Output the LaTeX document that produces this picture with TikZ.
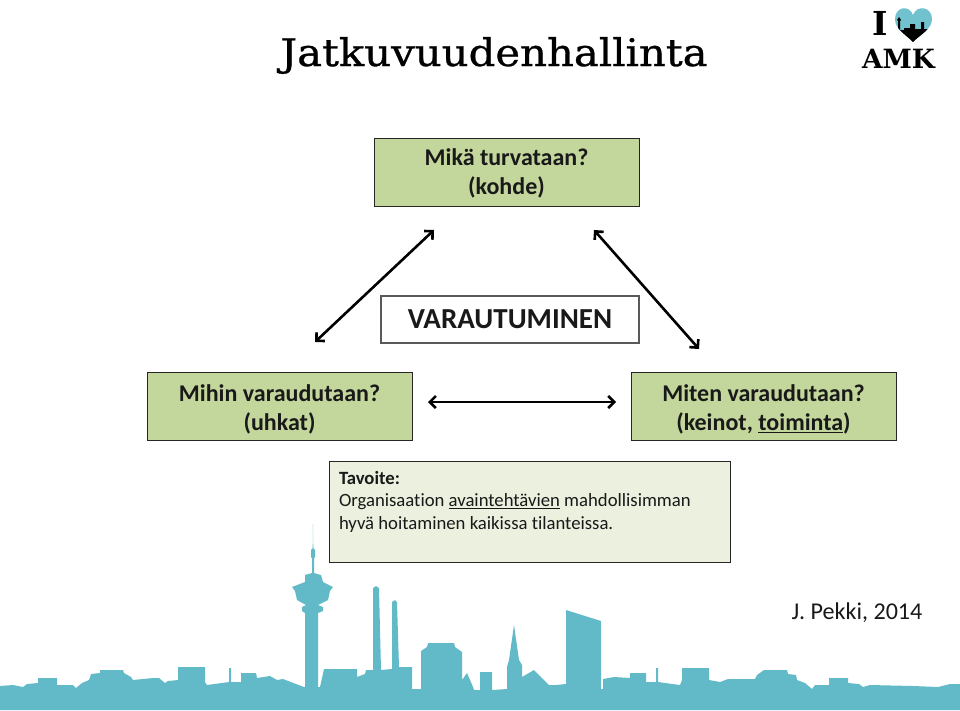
\documentclass[tikz,border=0pt]{standalone}
\usepackage{fontspec}
\setmainfont[Ligatures=NoCommon]{Carlito}
\newfontfamily\titlefont[FakeStretch=1.1,FakeBold=0.8]{DejaVu Serif}
\newfontfamily\logofont{DejaVu Serif}
\usetikzlibrary{arrows.meta}
\definecolor{boxgreen}{HTML}{C3D69B}
\definecolor{palegreen}{HTML}{EBF0DF}
\definecolor{skyteal}{HTML}{62BAC8}
\tikzset{
  question/.style={draw=black!85,line width=1pt,fill=boxgreen,minimum width=265pt,minimum height=68pt,inner sep=0pt,align=center,text=black!90,font=\bfseries\fontsize{24}{29}\selectfont},
  twoway/.style={line width=2.6pt,{Straight Barb[length=6pt,width=12pt,line width=2.6pt]}-{Straight Barb[length=6pt,width=12pt,line width=2.6pt]},black},
}
\begin{document}
\begin{tikzpicture}[x=1pt,y=-1pt]
\useasboundingbox (0,0) rectangle (960,710);
% skyline
\fill[skyteal] (0,686) -- (13,685) -- (23,687) -- (27,684) -- (38,683) -- (38,678) -- (57,678) -- (57,685) -- (73,685) -- (76,688) -- (82,683) -- (89,680) -- (91,674) -- (100,673) -- (100,670) -- (123,670) -- (124,673) -- (131,677) -- (133,680) -- (153,678) -- (159,678) -- (165,683) -- (168,681) -- (178,680) -- (178,667) -- (205,667) -- (205,682) -- (207,685) -- (229,682) -- (229,668) -- (231,668) -- (231,682) -- (241,682) -- (241,673) -- (256,673) -- (257,678) -- (270,676) -- (277,680) -- (283,679) -- (304,687) -- (305,687) -- (305,613) -- (302,611) -- (302,607) -- (306,605) -- (297,600) -- (295,591) -- (292,587) -- (305,582) -- (305,575) -- (312,573) -- (312,558) -- (311,557) -- (311,550) -- (312.7,548) -- (313,524) -- (313.3,548) -- (315,550) -- (315,557) -- (314,558) -- (314,573) -- (321,575) -- (323,582) -- (333,587) -- (330,591) -- (328,600) -- (318,605) -- (323,607) -- (323,611) -- (318,613) -- (318,687) -- (320,687) -- (324,669) -- (357,669) -- (357,677) -- (365,674) -- (366,670) -- (373,670) -- (373,588) -- (376,586) -- (379,588) -- (381,670) -- (392,669) -- (392,602) -- (395,600) -- (397,602) -- (399,667) -- (412,667) -- (412,689) -- (421,689) -- (421,651) -- (427,647) -- (428,643) -- (454,643) -- (455,647) -- (462,652) -- (462,680) -- (467,673) -- (473,687) -- (474,690) -- (480,690) -- (480,672) -- (492,672) -- (492,690) -- (507,689) -- (507,667) -- (509,660) -- (514,625) -- (519,660) -- (522,665) -- (522,677) -- (534,670) -- (549,685) -- (556,685) -- (566,684) -- (566,610) -- (601,621) -- (601,689) -- (603,689) -- (603,679) -- (614,677) -- (630,678) -- (630,673) -- (646,673) -- (646,682) -- (656,682) -- (656,668) -- (658,668) -- (658,682) -- (680,685) -- (682,680) -- (682,668) -- (709,668) -- (709,680) -- (720,682) -- (728,679) -- (755,679) -- (757,675) -- (764,670) -- (787,670) -- (788,674) -- (796,675) -- (797,680) -- (805,683) -- (812,689) -- (815,685) -- (829,685) -- (829,678) -- (848,678) -- (848,683) -- (859,684) -- (863,687) -- (870,685) -- (913,686) -- (938,687) -- (950,684) -- (960,684) -- (960,710) -- (0,710) -- cycle;
% logo
\begin{scope}
\clip (913,42) .. controls (905,34) and (895,29) .. (895,19) .. controls (895,7) and (909,4) .. (913,15) .. controls (917,4) and (932,7) .. (932,19) .. controls (932,29) and (921,34) .. (913,42) -- cycle;
\fill[skyteal!90!white] (890,5) rectangle (936,44);
\fill[black] (893,46) -- (893,30) -- (898,30) -- (898,21) -- (897,20) -- (899,17) -- (901,20) -- (900,21) -- (900,30) -- (904,30) -- (904,28) -- (910,28) -- (910,24) -- (915,24) -- (915,29) -- (921,29) -- (921,22) -- (924,22) -- (924,29) -- (934,29) -- (934,46) -- cycle;
\end{scope}
\node (logoi) at (880,23) {\logofont\bfseries\fontsize{33}{33}\selectfont I};
\node (logoamk) at (898.5,59) {\logofont\bfseries\fontsize{26.5}{28}\selectfont AMK};
\node[anchor=base] (title) at (494,66) {\titlefont\fontsize{38}{44}\selectfont Jatkuvuudenhallinta};
% boxes
\node[question] (kohde) at (506.5,172) {\rule{0pt}{19pt}Mikä turvataan?\\(kohde)};
\node[question] (uhkat) at (279.5,406.5) {\rule{0pt}{23pt}Mihin varaudutaan?\\(uhkat)};
\node[question] (keinot) at (763.5,406.5) {\rule{0pt}{23pt}Miten varaudutaan?\\(keinot, \underline{toiminta})};
\node[draw=black!65,line width=1.2pt,minimum width=258pt,minimum height=47pt,inner sep=0pt,text=black!90,font=\bfseries\fontsize{29}{30}\selectfont] (varautuminen) at (510,319.5) {VARAUTUMINEN};
\node[draw=black!85,line width=1pt,fill=palegreen,minimum width=401pt,minimum height=101pt,text width=381pt,inner sep=0pt,align=flush left,text=black!90,font=\fontsize{18.7}{22.5}\selectfont] (tavoite) at (529.5,511.5) {\textbf{Tavoite:}\\Organisaation \underline{avaintehtävien} mahdollisimman\\hyvä hoitaminen kaikissa tilanteissa.\\~};
\node[text=black!90,font=\fontsize{24.1}{28}\selectfont] (tekija) at (857,613) {J. Pekki, 2014};
% arrows
\coordinate (kohdevasen) at (434,230);
\coordinate (kohdeoikea) at (594,230);
\coordinate (uhkatylos) at (315,342);
\coordinate (keinotylos) at (699,349);
\coordinate (uhkatoikea) at (428,402);
\coordinate (keinotvasen) at (616,402);
\draw[twoway] (uhkatylos) -- (kohdevasen);
\draw[twoway] (kohdeoikea) -- (keinotylos);
\draw[twoway] (uhkatoikea) -- (keinotvasen);
\end{tikzpicture}
\end{document}
